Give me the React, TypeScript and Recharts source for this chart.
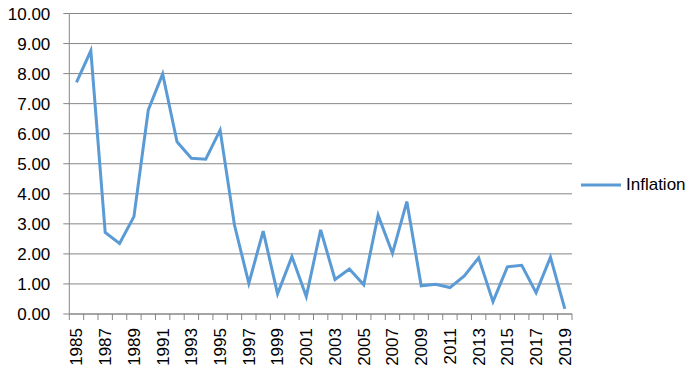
import React from 'react';
import { LineChart, Line, XAxis, YAxis, CartesianGrid, Legend } from 'recharts';

const years = [
  '1985', '1986', '1987', '1988', '1989', '1990', '1991', '1992', '1993', '1994',
  '1995', '1996', '1997', '1998', '1999', '2000', '2001', '2002', '2003', '2004',
  '2005', '2006', '2007', '2008', '2009', '2010', '2011', '2012', '2013', '2014',
  '2015', '2016', '2017', '2018', '2019',
];

const inflation = [
  7.71, 8.76, 2.71, 2.35, 3.24, 6.79, 7.99, 5.73, 5.18, 5.15,
  6.12, 2.96, 1.02, 2.76, 0.67, 1.91, 0.58, 2.8, 1.15, 1.5,
  0.97, 3.29, 2.02, 3.74, 0.94, 0.99, 0.88, 1.27, 1.87, 0.41,
  1.57, 1.62, 0.71, 1.89, 0.17,
];

const yTicks = [0, 1, 2, 3, 4, 5, 6, 7, 8, 9, 10];

const data = years.map((year, i) => ({ year, inflation: inflation[i] }));

const FONT = '"Liberation Sans", Arial, sans-serif';
const GREY = '#868686';
const BLUE = '#5B9BD5';

const PLOT_W = 696 - 69.3 - 124.3;
const BAND = PLOT_W / years.length;

const YearTick = (props: any) => {
  const { x, y, index, payload } = props;
  const axisY = y - 14;
  const left = x - BAND / 2;
  return (
    <g>
      <line x1={left} y1={axisY} x2={left} y2={axisY + 6} stroke={GREY} />
      {index === years.length - 1 && (
        <line x1={x + BAND / 2} y1={axisY} x2={x + BAND / 2} y2={axisY + 6} stroke={GREY} />
      )}
      {index % 2 === 0 && (
        <text
          x={x}
          y={y}
          dy="0.35em"
          textAnchor="end"
          transform={`rotate(-90, ${x}, ${y})`}
          fontFamily={FONT}
          fontSize={17}
          fill="#000"
        >
          {payload.value}
        </text>
      )}
    </g>
  );
};

const LegendBox = () => (
  <div style={{ width: 124, height: 20, display: 'flex', alignItems: 'center', fontFamily: FONT, fontSize: 17, color: '#000' }}>
    <svg width={54} height={20} style={{ display: 'block' }}>
      <line x1={9} y1={10} x2={49} y2={10} stroke={BLUE} strokeWidth={3} />
    </svg>
    <span>Inflation</span>
  </div>
);

export default function App() {
  return (
    <div style={{ position: 'absolute', left: 0, top: 0, width: 696, height: 373, background: '#fff' }}>
      <LineChart width={696} height={373} data={data} margin={{ top: 13.5, right: 0, left: 0, bottom: 0 }}>
        <CartesianGrid vertical={false} stroke={GREY} strokeWidth={1} />
        <XAxis
          dataKey="year"
          height={59}
          interval={0}
          padding={{ left: BAND / 2, right: BAND / 2 }}
          axisLine={{ stroke: GREY }}
          tickLine={false}
          tickSize={6}
          tickMargin={8}
          tick={<YearTick />}
        />
        <YAxis
          width={69.3}
          domain={[0, 10]}
          ticks={yTicks}
          interval={0}
          tickFormatter={(v: number) => v.toFixed(2)}
          axisLine={{ stroke: GREY }}
          tickLine={{ stroke: GREY }}
          tickSize={6}
          tickMargin={13}
          tick={{ fontFamily: FONT, fontSize: 17, fill: '#000' }}
        />
        <Legend
          layout="vertical"
          align="right"
          verticalAlign="middle"
          wrapperStyle={{ top: 175 }}
          content={<LegendBox />}
        />
        <Line
          type="linear"
          dataKey="inflation"
          name="Inflation"
          stroke={BLUE}
          strokeWidth={3}
          dot={false}
          activeDot={false}
          isAnimationActive={false}
        />
      </LineChart>
    </div>
  );
}
